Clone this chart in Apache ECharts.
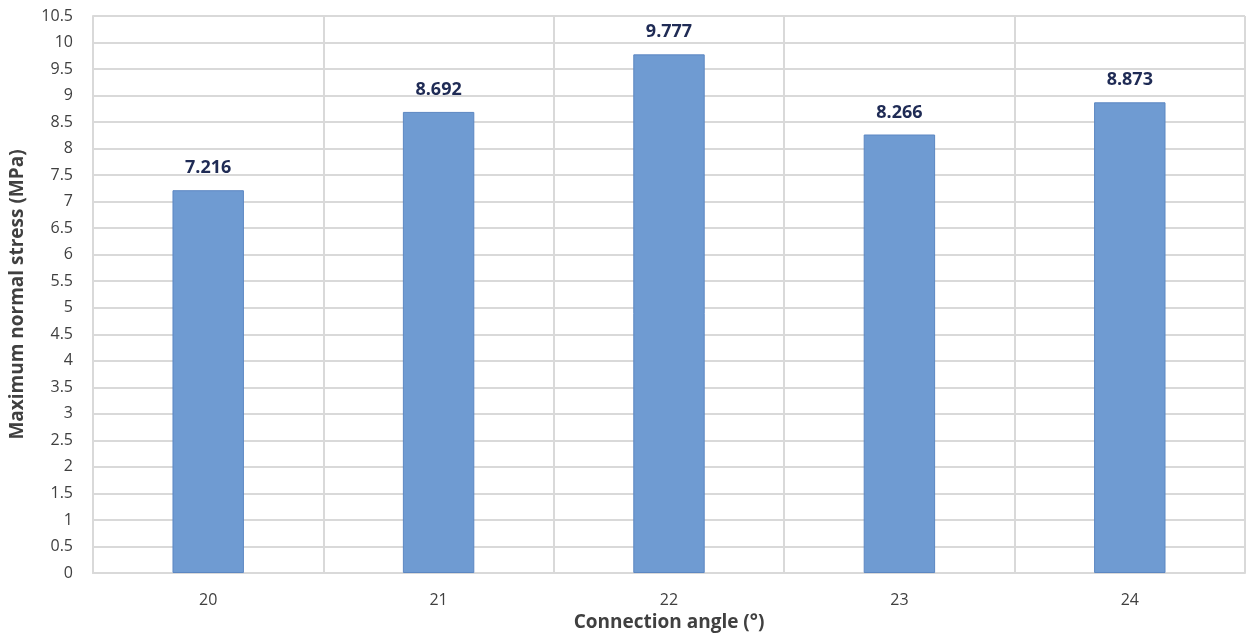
<!DOCTYPE html>
<html>
<head>
<meta charset="utf-8">
<script src="https://cdn.jsdelivr.net/npm/echarts@6/dist/echarts.min.js"></script>
<style>
  html, body { margin: 0; padding: 0; background: #ffffff; }
  #chart { width: 1246px; height: 637px; }
</style>
</head>
<body>
<div id="chart"></div>
<script>
// Connection angle (degrees) vs. maximum normal stress (MPa)
const categories = ['20', '21', '22', '23', '24'];
const stressValues = [7.216, 8.692, 9.777, 8.266, 8.873];

const font = '"Open Sans", "Noto Sans", sans-serif';
const chart = echarts.init(document.getElementById('chart'));

chart.setOption({
  animation: false,
  backgroundColor: '#ffffff',
  grid: { left: 93, right: 1, top: 16, bottom: 64, outerBoundsMode: 'none', containLabel: false },
  xAxis: {
    type: 'category',
    data: categories,
    name: 'Connection angle (°)',
    nameLocation: 'middle',
    nameGap: 37,
    nameTextStyle: { fontFamily: font, fontSize: 19, fontWeight: 'bold', color: '#404040' },
    axisLine: { show: true, lineStyle: { color: '#d9d9d9', width: 2 } },
    axisTick: { show: false },
    axisLabel: { fontFamily: font, fontSize: 16, color: '#404040', margin: 19 },
    splitLine: { show: true, lineStyle: { color: '#d9d9d9', width: 2 } }
  },
  yAxis: {
    type: 'value',
    min: 0,
    max: 10.5,
    interval: 0.5,
    name: 'Maximum normal stress (MPa)',
    nameLocation: 'middle',
    nameGap: 66,
    nameTextStyle: { fontFamily: font, fontSize: 19, fontWeight: 'bold', color: '#404040' },
    axisLine: { show: true, lineStyle: { color: '#d9d9d9', width: 2 } },
    axisTick: { show: false },
    axisLabel: { fontFamily: font, fontSize: 16, color: '#404040', margin: 20 },
    splitLine: { show: true, lineStyle: { color: '#d9d9d9', width: 2 } }
  },
  series: [{
    type: 'bar',
    data: stressValues,
    barWidth: '31%',
    itemStyle: { color: '#6f9bd2', borderColor: '#5c87c2', borderWidth: 1 },
    label: {
      show: true,
      position: 'top',
      distance: 13,
      fontFamily: font,
      fontSize: 18,
      fontWeight: 'bold',
      color: '#1f2b55',
      formatter: p => p.value.toFixed(3)
    }
  }]
});
</script>
</body>
</html>
